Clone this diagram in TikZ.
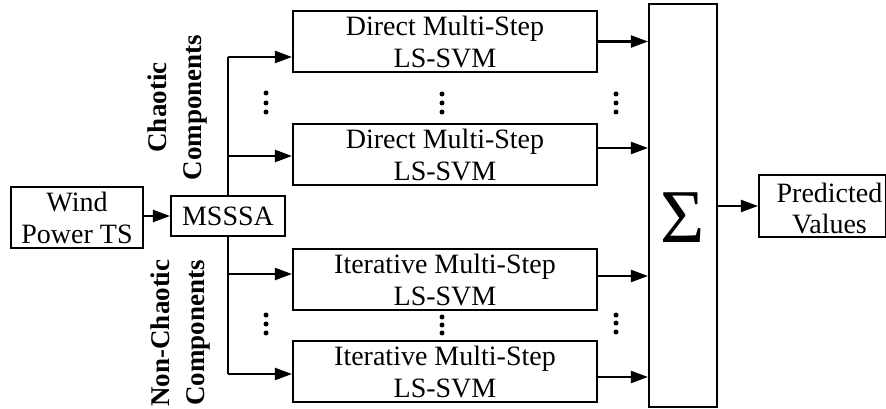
\documentclass[tikz,border=0pt]{standalone}
\usepackage{fontspec}
\setmainfont{Liberation Serif}
\usetikzlibrary{arrows.meta}
\begin{document}
\begin{tikzpicture}[x=1pt,y=-1pt,line width=2.1pt,
  box/.style={draw,line width=2.1pt,inner sep=0pt,align=center,font=\fontsize{28}{32}\selectfont},
  txt/.style={inner sep=0pt,align=center,font=\fontsize{28}{31}\selectfont},
  arr/.style={-{Triangle[length=17pt,width=12pt]},line width=2.1pt},
  lab/.style={rotate=90,inner sep=0pt,align=center,font=\fontsize{27}{35}\selectfont\bfseries},
  dotc/.style={circle,fill,inner sep=0pt,minimum size=5pt}]
\useasboundingbox (0,0) rectangle (886,409);

% boxes
\node[box,minimum width=132pt,minimum height=61pt] (wind) at (77,217.5) {Wind\\Power TS};
\node[box,minimum width=114pt,minimum height=40pt] (msssa) at (228,216) {MSSSA};
\node[box,minimum width=304pt,minimum height=61pt] (d1) at (445,41.5) {Direct Multi-Step\\LS-SVM};
\node[box,minimum width=304pt,minimum height=61pt] (d2) at (445,154.5) {Direct Multi-Step\\LS-SVM};
\node[box,minimum width=304pt,minimum height=61pt] (i1) at (445,279.5) {Iterative Multi-Step\\LS-SVM};
\node[box,minimum width=304pt,minimum height=61pt] (i2) at (445,371.5) {Iterative Multi-Step\\LS-SVM};
\node[box,minimum width=68pt,minimum height=403pt] (sig) at (683,205.5) {};
\node[inner sep=0pt,font=\fontsize{76}{76}\selectfont] (sigtxt) at (682.5,217.5) {Σ};
\node[box,minimum width=127pt,minimum height=62pt] (pred) at (822.5,206) {};
\node[txt] (predtxt) at (829.5,208) {Predicted\\Values};

% rotated labels
\node[lab] (chaos) at (177.5,107.5) {Chaotic\\Components};
\node[lab] (nonchaos) at (181,333) {Non-Chaotic\\Components};

% input
\draw[arr] (wind.east |- msssa.west) -- (msssa.west);

% trunk and branches
\coordinate (b1) at (228,57);
\coordinate (b2) at (228,156);
\coordinate (b3) at (228,274);
\coordinate (b4) at (228,374);
\draw (msssa.north) -- (b1);
\draw (msssa.south) -- (b4);
\draw[arr] (b1) -- (b1 -| d1.west);
\draw[arr] (b2) -- (b2 -| d2.west);
\draw[arr] (b3) -- (b3 -| i1.west);
\draw[arr] (b4) -- (b4 -| i2.west);

% outputs
\draw[arr] (d1.east) -- (d1.east -| sig.west);
\draw[arr] ([yshift=6.5pt]d2.east) -- ([yshift=6.5pt]d2.east -| sig.west);
\draw[arr] ([yshift=3.5pt]i1.east) -- ([yshift=3.5pt]i1.east -| sig.west);
\draw[arr] ([yshift=-5.5pt]i2.east) -- ([yshift=-5.5pt]i2.east -| sig.west);
\draw[arr] (sig.east |- pred.west) -- (pred.west);

% dots
\foreach \x/\y in {266/93,266/103,266/112,266/315,266/324,266/333,
                   442/94,442/103,442/112,442/317,442/325,442/333,
                   616/94,616/103,616/112,616/315,616/323,616/332}
  \node[dotc] at (\x,\y) {};
\end{tikzpicture}
\end{document}
